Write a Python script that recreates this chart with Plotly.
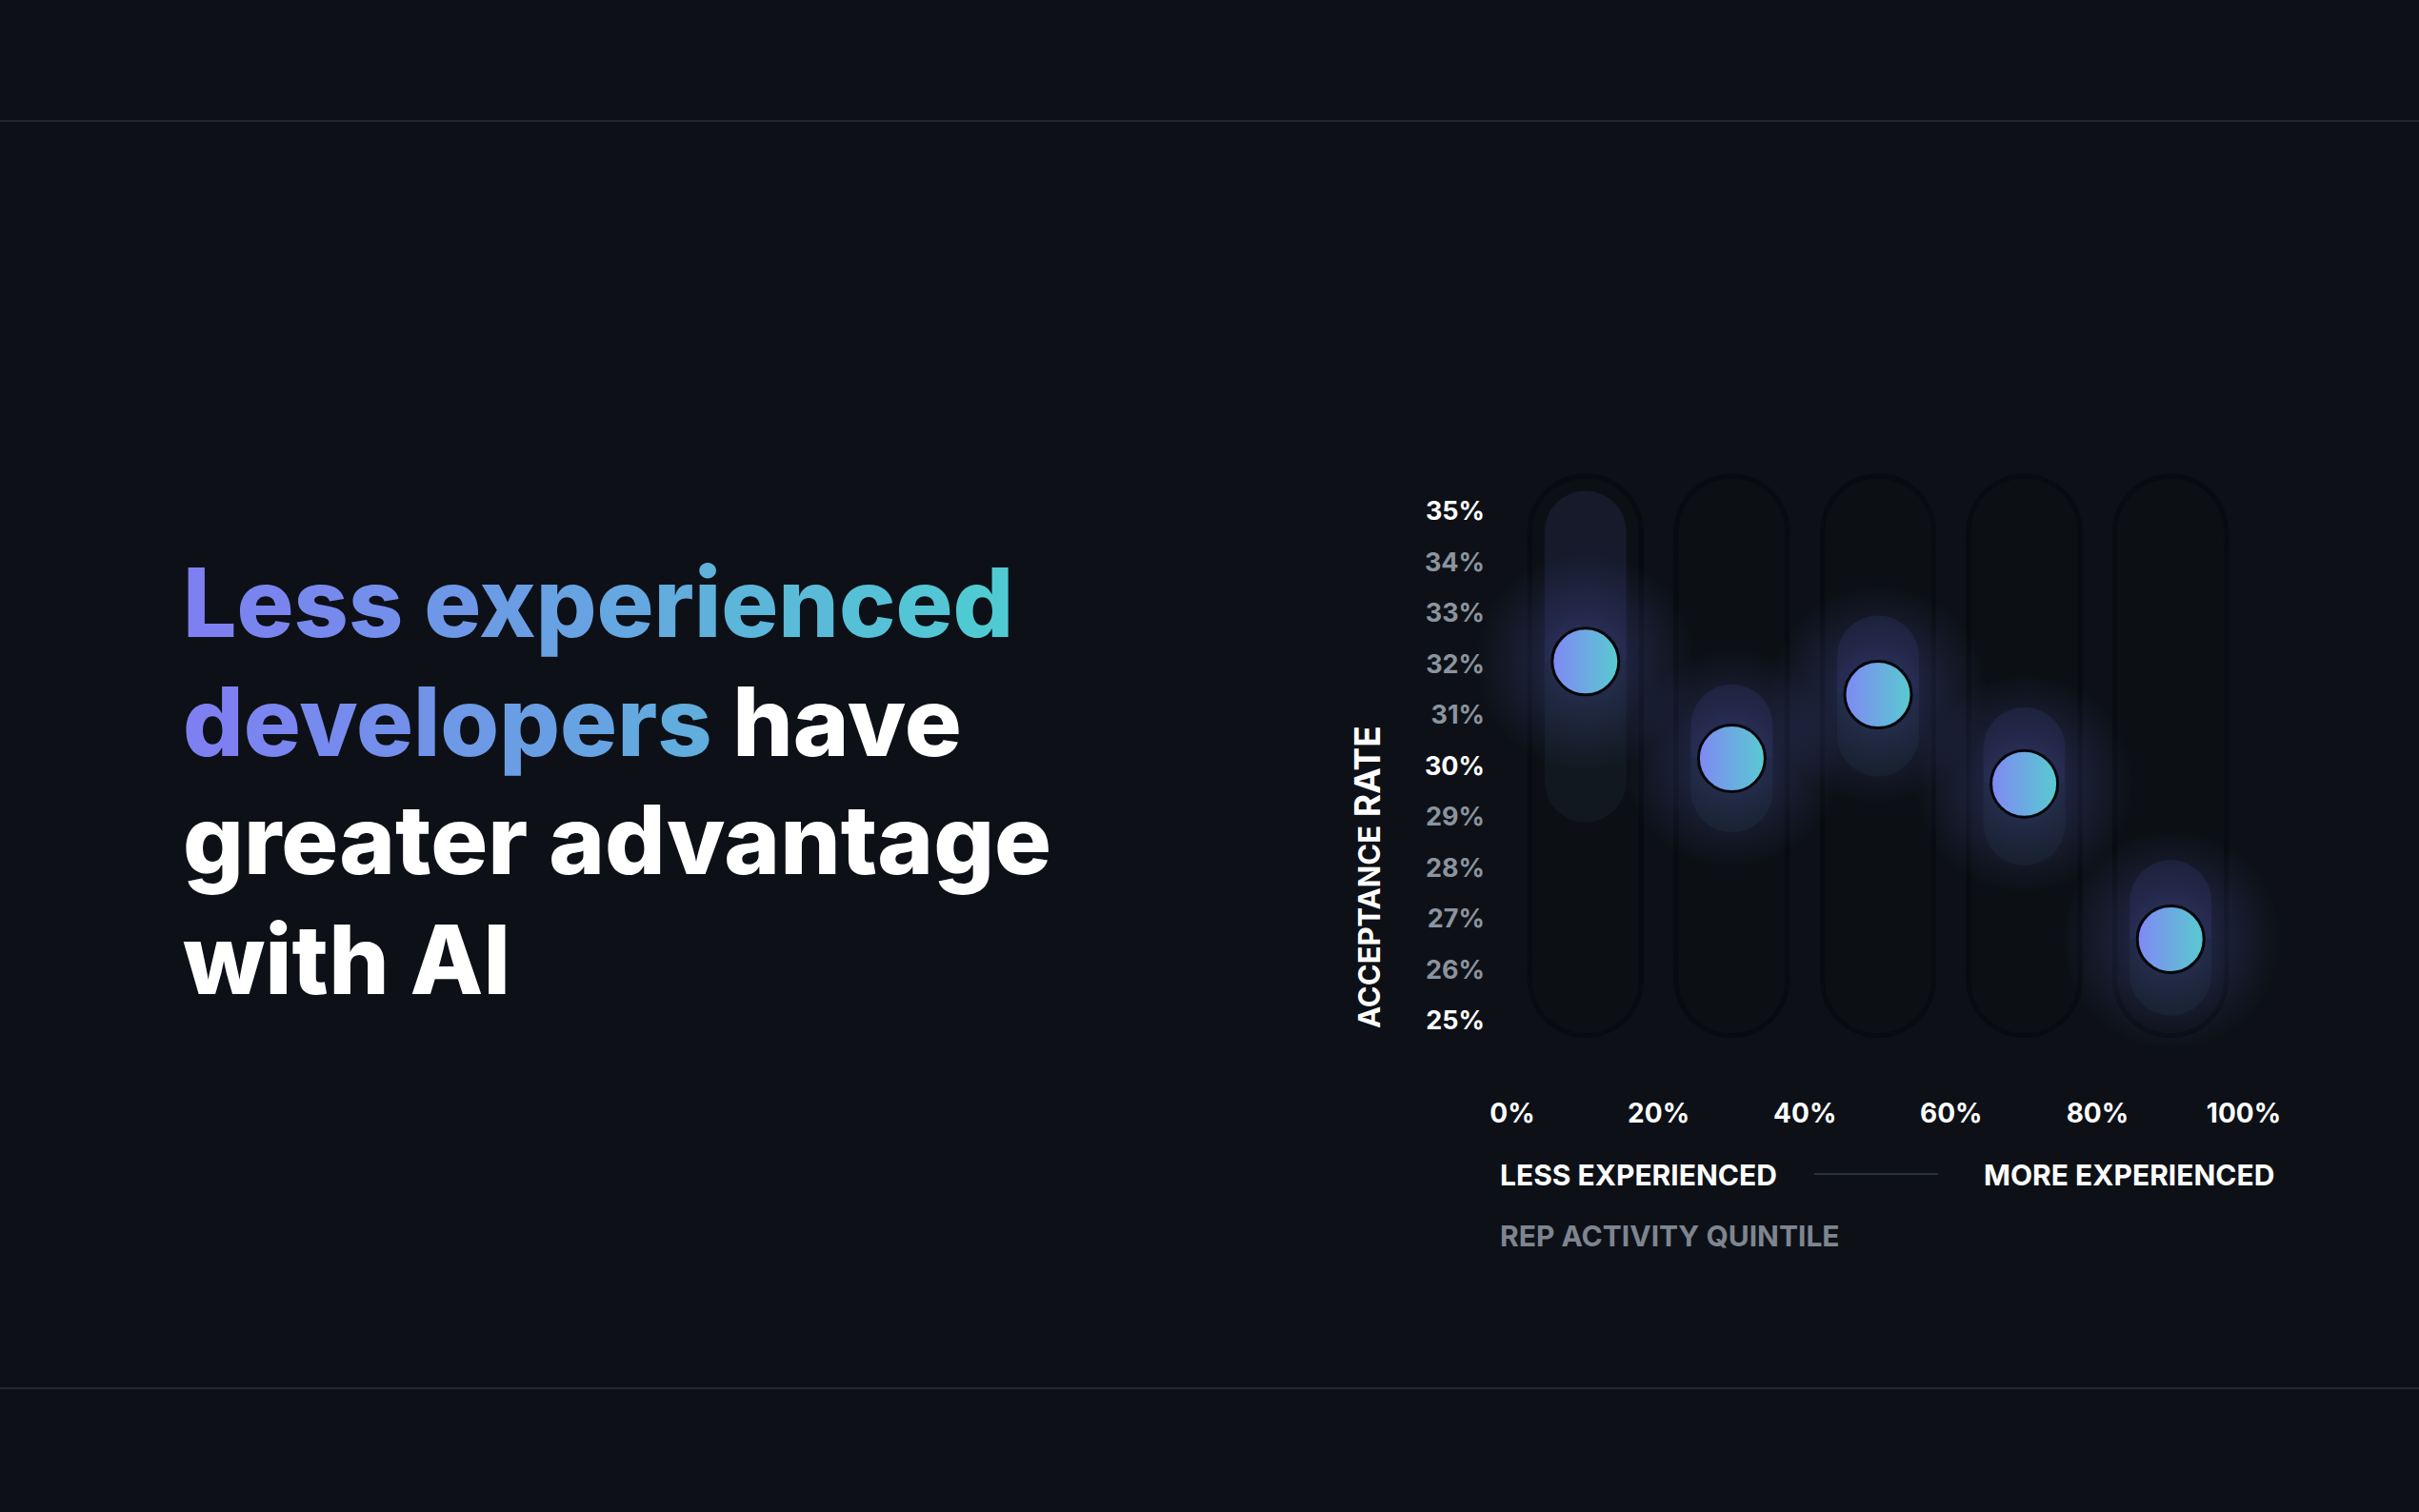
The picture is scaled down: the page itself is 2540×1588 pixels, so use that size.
import plotly.graph_objects as go

# Data
quintile_mid = [10, 30, 50, 70, 90]
acceptance = [32.05, 30.15, 31.4, 29.65, 26.6]
range_low = [29.7, 29.5, 30.6, 28.85, 25.9]
range_high = [34.6, 30.8, 32.15, 30.35, 27.35]
track_span = [25.8, 34.6]

y_ticks = [25, 26, 27, 28, 29, 30, 31, 32, 33, 34, 35]
y_major = [25, 30, 35]
x_ticks = [0, 20, 40, 60, 80, 100]

headline = ["Less experienced", "developers", "have", "greater advantage", "with AI"]

W, H = 2540, 1588
BG = "#0d1117"
FONT = "Inter"


def px_x(x):
    return x / W


def px_y(y):
    return 1 - y / H


def gradient_text(text, t0, t1):
    # fake a left-to-right gradient by colouring each character
    c0 = (126, 128, 242)
    c1 = (80, 202, 210)
    out = ""
    n = max(len(text) - 1, 1)
    for i, ch in enumerate(text):
        t = t0 + (t1 - t0) * i / n
        r, g, b = [int(a + (bb - a) * t) for a, bb in zip(c0, c1)]
        out += f"<span style='color:rgb({r},{g},{b})'>{ch}</span>"
    return out


fig = go.Figure()

# background tracks
for x in quintile_mid:
    for color, width in [("#080b0f", 122), ("#0c1015", 112)]:
        fig.add_trace(go.Scatter(
            x=[x, x], y=track_span, mode="lines+markers",
            line=dict(color=color, width=width),
            marker=dict(color=color, size=width),
            cliponaxis=False, hoverinfo="skip"
        ))

# range pills, upper half navy, lower half dark teal
for x, lo, mid, hi in zip(quintile_mid, range_low, acceptance, range_high):
    fig.add_trace(go.Scatter(
        x=[x, x], y=[mid, hi], mode="lines",
        line=dict(color="#161a2b", width=86), hoverinfo="skip"
    ))
    fig.add_trace(go.Scatter(
        x=[x, x], y=[lo, mid], mode="lines",
        line=dict(color="#11191f", width=86), hoverinfo="skip"
    ))
    fig.add_trace(go.Scatter(
        x=[x, x], y=[lo, hi], mode="markers",
        marker=dict(color=["#11191f", "#161a2b"], size=86),
        cliponaxis=False, hoverinfo="skip"
    ))

# soft glow behind each dot (gradient.color is the centre for radial)
fig.add_trace(go.Scatter(
    x=quintile_mid, y=acceptance, mode="markers",
    marker=dict(size=230, color="rgba(105,115,235,0)",
                gradient=dict(type="radial", color="rgba(105,115,235,0.3)"),
                line=dict(width=0)),
    cliponaxis=False, hoverinfo="skip"
))

# dots
fig.add_trace(go.Scatter(
    x=quintile_mid, y=acceptance, mode="markers",
    marker=dict(size=70, color="#8088f4",
                gradient=dict(type="horizontal", color="#58cbd0"),
                line=dict(color="#05070a", width=3)),
    cliponaxis=False
))

y_text = []
for v in y_ticks:
    col = "#ffffff" if v in y_major else "#8b949e"
    y_text.append(f"<span style='color:{col}'>{v}%</span>")

fig.update_layout(
    width=W, height=H,
    margin=dict(l=0, r=0, t=0, b=0, pad=0, autoexpand=False),
    paper_bgcolor=BG, plot_bgcolor=BG,
    showlegend=False,
    font=dict(family=FONT, color="#ffffff"),
    xaxis=dict(
        domain=[px_x(1588), px_x(2356)], range=[0, 100],
        tickvals=x_ticks, ticktext=[f"{v}%" for v in x_ticks],
        showgrid=False, zeroline=False, showline=False, automargin=False,
        ticklabelstandoff=78,
        tickfont=dict(family=FONT, size=28, color="#ffffff", weight=700),
    ),
    yaxis=dict(
        domain=[px_y(1072), px_y(537)], range=[25, 35],
        tickvals=y_ticks, ticktext=y_text,
        showgrid=False, zeroline=False, showline=False, automargin=False,
        ticklabelstandoff=28,
        tickfont=dict(family=FONT, size=27, weight=700),
    ),
)

# headline
lines = [
    gradient_text(headline[0], 0.0, 1.0),
    gradient_text(headline[1], 0.0, 0.62) + " " + headline[2],
    headline[3],
    headline[4],
]
for i, txt in enumerate(lines):
    fig.add_annotation(
        x=px_x(190), y=px_y(632 + 125 * i), xref="paper", yref="paper",
        xanchor="left", yanchor="middle", showarrow=False, text=txt,
        font=dict(family=FONT, size=100, color="#ffffff", weight=800),
    )

# axis titles
fig.add_annotation(
    x=px_x(1435), y=px_y(921), xref="paper", yref="paper",
    textangle=-90, showarrow=False,
    text="<span style='font-size:31px'>ACCEPTANCE</span> RATE",
    font=dict(family=FONT, size=37, color="#ffffff", weight=700),
)
fig.add_annotation(
    x=px_x(1573), y=px_y(1234), xref="paper", yref="paper",
    xanchor="left", yanchor="middle", showarrow=False,
    text="LESS EXPERIENCED",
    font=dict(family=FONT, size=30, color="#ffffff", weight=700),
)
fig.add_annotation(
    x=px_x(2390), y=px_y(1234), xref="paper", yref="paper",
    xanchor="right", yanchor="middle", showarrow=False,
    text="MORE EXPERIENCED",
    font=dict(family=FONT, size=30, color="#ffffff", weight=700),
)
fig.add_annotation(
    x=px_x(1573), y=px_y(1298), xref="paper", yref="paper",
    xanchor="left", yanchor="middle", showarrow=False,
    text="REP ACTIVITY QUINTILE",
    font=dict(family=FONT, size=30, color="#7d8590", weight=700),
)

# separator lines
fig.add_shape(type="line", xref="paper", yref="paper",
              x0=px_x(1905), x1=px_x(2035), y0=px_y(1233), y1=px_y(1233),
              line=dict(color="#2a3038", width=2))
for yy in [127, 1458]:
    fig.add_shape(type="line", xref="paper", yref="paper",
                  x0=0, x1=1, y0=px_y(yy), y1=px_y(yy),
                  line=dict(color="#2b3037", width=1.5))

fig.write_html(
    "out.html",
    config={"displayModeBar": False},
    post_script="document.body.style.margin='0';document.body.style.overflow='hidden';",
)
